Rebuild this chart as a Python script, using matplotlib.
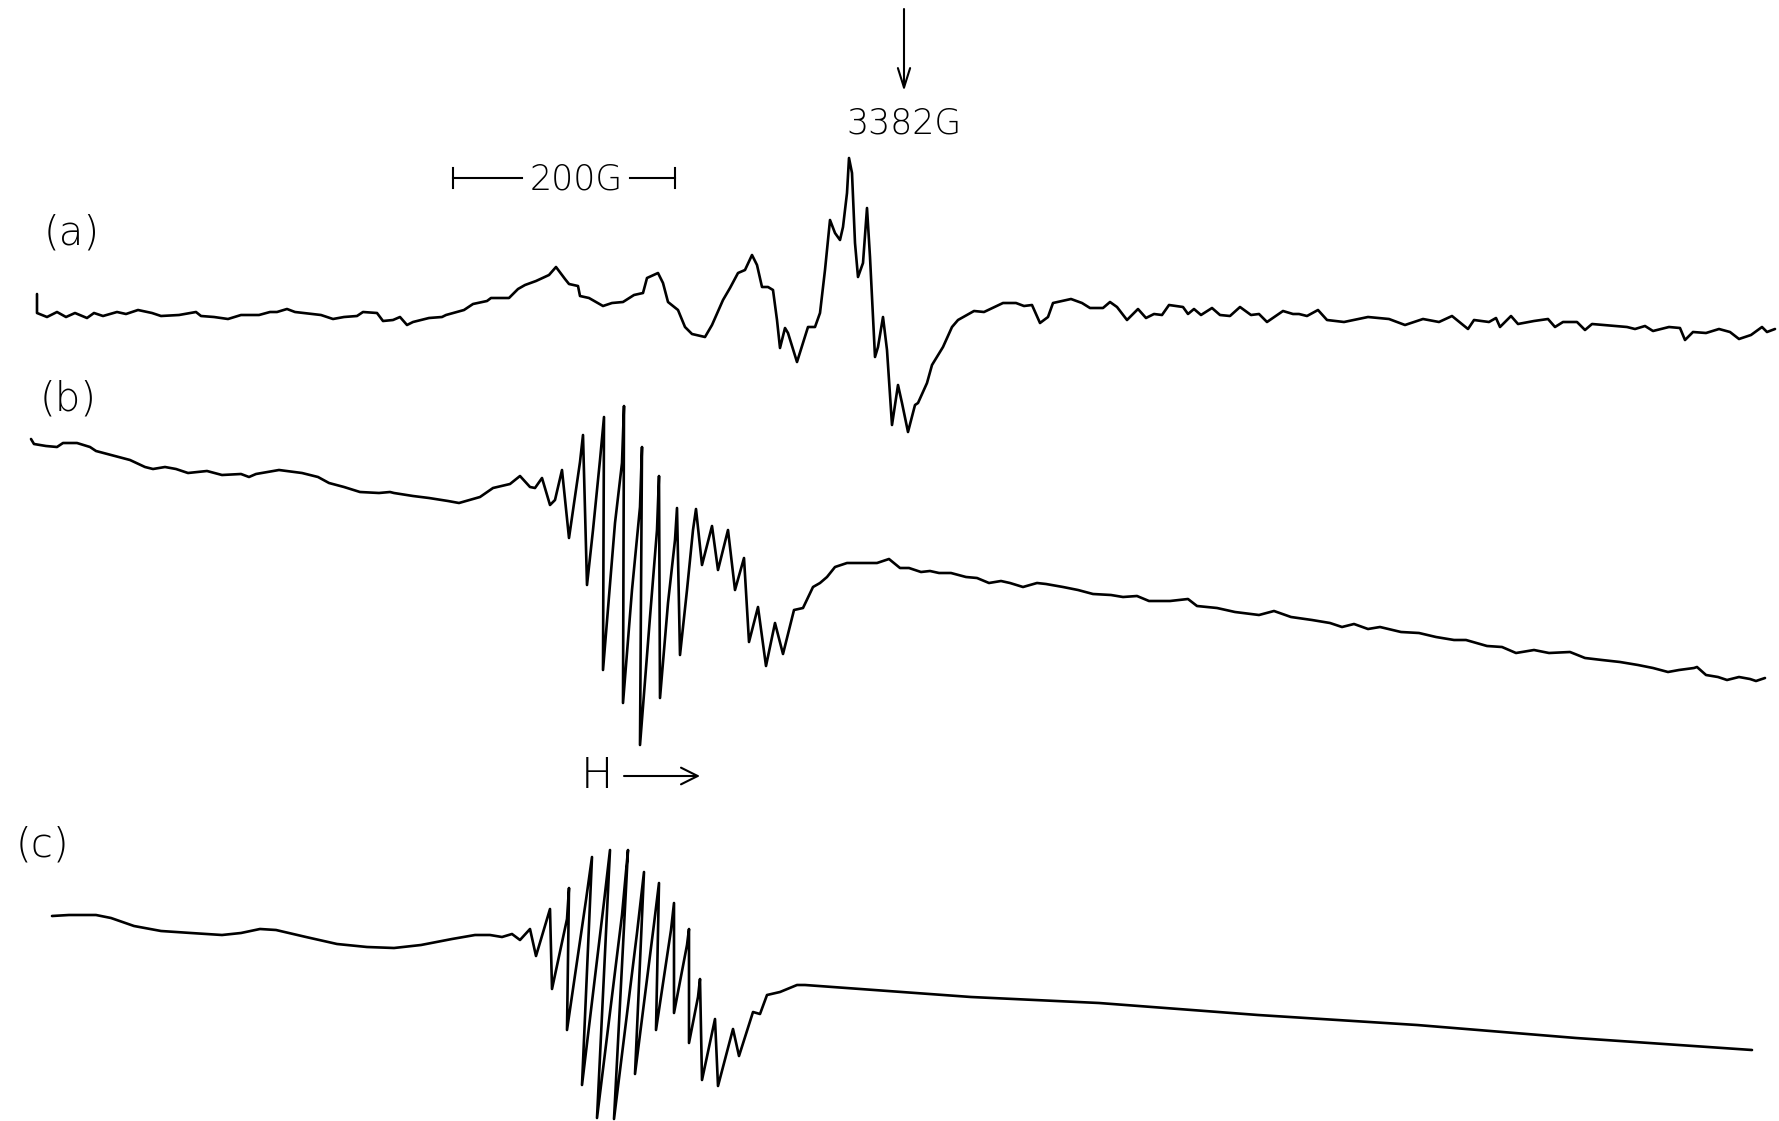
import numpy as np
import matplotlib.pyplot as plt

W, H = 1779, 1121

# trace (a)
field_a = [37, 37, 47, 57, 66, 75, 87, 94, 103, 117, 126, 138, 152, 161, 179, 196, 201, 214, 228, 241,
           259, 270, 277, 287, 295, 312, 321, 333, 344, 357, 363, 377, 383, 393, 400, 407, 413, 429, 442, 446,
           464, 473, 487, 491, 509, 518, 525, 536, 549, 556, 565, 569, 578, 580, 589, 603, 612, 623, 634, 643, 647,
           658, 663, 668, 678, 685, 692, 705, 712, 723, 730, 738, 745, 752, 757, 762, 768, 773, 777, 780, 785,
           788, 797, 803, 808, 815, 820, 825, 830, 835, 840, 843, 847, 849, 852, 855, 858, 863, 867, 870, 875,
           878, 883, 887, 892, 898, 902, 908, 915, 918, 927, 932, 943, 952,
           958, 974, 984, 1003, 1016, 1024, 1032, 1040, 1048, 1053, 1071, 1082, 1090, 1103, 1110, 1117, 1127, 1138,
           1146, 1154, 1162, 1169, 1183, 1188, 1194, 1201, 1212, 1220, 1230, 1240, 1251, 1259, 1267, 1283, 1293,
           1299, 1307, 1318, 1327, 1344, 1368, 1389, 1405, 1423, 1439, 1452, 1468, 1474, 1489, 1496, 1500, 1511,
           1518, 1534, 1548, 1555, 1563, 1577, 1585, 1592, 1616, 1627, 1635, 1645, 1653, 1669, 1680, 1685, 1693,
           1706, 1719, 1730, 1739, 1751, 1762, 1767, 1775]
signal_a = [294, 313, 317, 312, 317, 313, 318, 313, 316, 312, 314, 310, 313, 316, 315, 312, 316, 317, 319, 315,
            315, 312, 312, 309, 312, 314, 315, 319, 317, 316, 312, 313, 321, 320, 317, 325, 322, 318, 317, 315,
            310, 304, 301, 298, 298, 289, 285, 281, 275, 267, 279, 284, 286, 296, 298, 306, 303, 302, 295, 293, 278,
            273, 283, 302, 310, 327, 334, 337, 325, 300, 288, 273, 270, 255, 265, 287, 287, 290, 320, 348, 328,
            333, 362, 343, 327, 327, 313, 270, 220, 233, 240, 227, 193, 158, 173, 243, 277, 263, 208, 257, 357,
            347, 317, 350, 425, 385, 403, 432, 405, 403, 383, 365, 347, 327,
            320, 311, 312, 303, 303, 306, 305, 323, 317, 303, 299, 303, 308, 308, 302, 307, 320, 309,
            318, 314, 315, 305, 307, 314, 309, 315, 308, 315, 316, 307, 315, 314, 322, 311, 314,
            314, 316, 310, 320, 322, 317, 319, 325, 319, 322, 316, 329, 320, 322, 318, 327, 316,
            324, 321, 319, 327, 322, 322, 330, 324, 326, 327, 329, 326, 331, 327, 328, 340, 332,
            333, 329, 332, 339, 335, 327, 332, 329]

# trace (b)
field_b = [31, 34, 46, 57, 63, 77, 90, 96, 115, 130, 145, 153, 165, 176, 188, 207, 222, 241, 249, 256,
           279, 302, 318, 329, 344, 360, 379, 390, 394, 413, 429, 448, 459,
           480, 493, 510, 520, 530, 535, 542, 550, 555, 562, 569, 580, 583, 587, 593, 600, 604, 603, 615, 622,
           624, 623, 632, 640, 642, 640, 650, 657, 659, 660, 668, 675, 677, 680, 687, 693, 696, 702, 712, 718,
           728, 735, 744, 749, 758, 766, 775, 783, 794, 803, 813, 820, 827, 835, 847, 860, 877,
           889, 900, 909, 921, 930, 939, 951, 966, 977, 989, 1001, 1010, 1023, 1037, 1046, 1063, 1078, 1093,
           1111, 1123, 1137, 1149, 1170, 1188, 1197, 1217, 1235, 1259, 1274, 1291, 1312, 1330, 1342, 1354, 1368,
           1380, 1401, 1419, 1436, 1454, 1466, 1487, 1502, 1516, 1534, 1549, 1570, 1585, 1602, 1620, 1638, 1653,
           1668, 1679, 1694, 1697, 1706, 1718, 1727, 1739, 1750, 1756, 1765]
signal_b = [439, 444, 446, 447, 443, 443, 447, 451, 456, 460, 467, 469, 467, 469, 473, 471, 475, 474, 477, 474,
            470, 473, 477, 483, 487, 492, 493, 492, 493, 496, 498, 501, 503,
            497, 488, 484, 476, 487, 488, 478, 505, 500, 470, 538, 462, 435, 585, 530, 460, 417, 670, 523, 463,
            406, 703, 590, 507, 447, 745, 617, 530, 476, 698, 603, 540, 508, 655, 590, 530, 509, 565, 526, 570,
            530, 590, 558, 642, 607, 666, 623, 654, 610, 608, 587, 583, 577, 567, 563, 563, 563,
            559, 568, 568, 572, 571, 573, 573, 577, 578, 583, 581, 583, 587, 583, 584, 587, 590, 594,
            595, 597, 596, 601, 601, 599, 606, 608, 612, 615, 611, 617, 620, 623, 627, 624, 629,
            627, 632, 633, 637, 640, 640, 646, 647, 653, 650, 653, 652, 658, 660, 662, 665, 668,
            672, 670, 668, 667, 675, 677, 680, 677, 679, 681, 678]

# trace (c)
field_c = [52, 69, 96, 111, 134, 161, 191, 222, 241, 260, 276, 306, 337, 367, 394, 421, 452, 475,
           490, 502, 512, 520, 530, 536, 550, 552, 567, 569, 567, 586, 592, 582, 604, 610, 597, 622, 628, 614,
           637, 644, 635, 654, 659, 656, 671, 674, 674, 687, 689, 689, 698, 700, 702, 715, 718, 733, 739, 753,
           760, 767, 780, 797,
           805, 971, 1099, 1258, 1417, 1576, 1752]
signal_c = [916, 915, 915, 918, 926, 931, 933, 935, 933, 929, 930, 937, 944, 947, 948, 945, 939, 935,
            935, 937, 934, 940, 929, 956, 909, 989, 919, 888, 1030, 900, 857, 1085, 902, 850, 1118, 915, 850, 1119,
            933, 872, 1074, 924, 883, 1030, 930, 903, 1013, 945, 929, 1043, 997, 979, 1080, 1019, 1086, 1029, 1056, 1012,
            1014, 995, 992, 985,
            985, 997, 1003, 1015, 1025, 1038, 1050]

trace_labels = ['(a)', '(b)', '(c)']
marker_text = '3382G'
scale_text = '200G'

fig = plt.figure(figsize=(W / 100, H / 100), dpi=100)
ax = fig.add_axes([0, 0, 1, 1])
ax.set_xlim(0, W)
ax.set_ylim(H, 0)
ax.axis('off')

for x, y in ((field_a, signal_a), (field_b, signal_b), (field_c, signal_c)):
    ax.plot(x, y, color='black', lw=1.9, solid_joinstyle='round', solid_capstyle='round')

txt = dict(family=['DejaVu Sans'], fontweight='light', color='black')

# panel labels
for lab, (lx, ly) in zip(trace_labels, [(72, 233), (68, 399), (42, 845)]):
    ax.text(lx, ly, lab, fontsize=29, ha='center', va='center', **txt)

# 3382G marker arrow
ax.annotate('', xy=(904, 91), xytext=(904, 9),
            arrowprops=dict(arrowstyle='->,head_length=0.7,head_width=0.22', lw=1.5,
                            color='black', mutation_scale=20, shrinkA=0, shrinkB=0))
ax.text(904, 124, marker_text, fontsize=25, ha='center', va='center', **txt)

# 200G scale bar
ax.plot([453, 522], [178, 178], color='black', lw=1.5)
ax.plot([630, 675], [178, 178], color='black', lw=1.5)
ax.plot([453, 453], [168, 188], color='black', lw=1.5)
ax.plot([675, 675], [168, 188], color='black', lw=1.5)
ax.text(576, 179, scale_text, fontsize=25, ha='center', va='center', **txt)

# field direction
ax.text(597, 776, 'H', fontsize=31, ha='center', va='center', **txt)
ax.annotate('', xy=(700, 776), xytext=(624, 776),
            arrowprops=dict(arrowstyle='->,head_length=0.6,head_width=0.3', lw=1.5,
                            color='black', mutation_scale=20, shrinkA=0, shrinkB=0))

fig.savefig('out.png', dpi=100, facecolor='white')
